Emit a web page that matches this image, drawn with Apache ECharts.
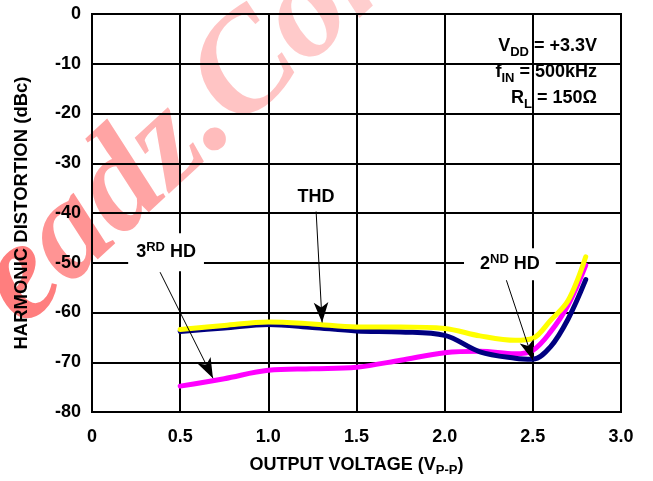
<!DOCTYPE html>
<html>
<head>
<meta charset="utf-8">
<script src="https://cdn.jsdelivr.net/npm/echarts@6/dist/echarts.min.js"></script>
<style>
  html, body { margin: 0; padding: 0; background: #fff; }
  #chart { width: 653px; height: 481px; }
</style>
</head>
<body>
<div id="chart"></div>
<script>
// Output voltage (V p-p) sample points
const voltage = [0.5, 0.75, 1.0, 1.25, 1.5, 1.75, 2.0, 2.2, 2.4, 2.5, 2.6, 2.7, 2.8];
// Distortion in dBc
const thd     = [-63.4, -62.6, -61.9, -62.3, -62.9, -62.9, -63.2, -64.7, -65.6, -65.2, -61.6, -57.6, -48.8];
const hd2     = [-63.8, -63.1, -62.4, -63.0, -63.7, -63.9, -64.6, -67.9, -69.2, -69.4, -66.9, -61.3, -53.4];
const hd3     = [-74.8, -73.3, -71.6, -71.3, -71.0, -69.6, -68.1, -67.8, -68.3, -67.6, -63.9, -58.5, -50.5];

// Axis ticks
const xTicks = [0, 0.5, 1.0, 1.5, 2.0, 2.5, 3.0];
const yTicks = [0, -10, -20, -30, -40, -50, -60, -70, -80];

// Callout labels (data units) and their pointer lines
const notes = [
  { name: 'THD',  at: [1.27, -36.6], from: [1.271, -39.7], to: [1.305, -62.0], pad: [3, 8, 1, 8] },
  { name: '3RD',  at: [0.42, -47.9], from: [0.386, -51.9], to: [0.686, -73.2], pad: [8, 8, 8, 8] },
  { name: '2ND',  at: [2.37, -50.3], from: [2.348, -53.3], to: [2.501, -69.6], pad: [5, 16, 5, 16] }
];

const FONT = '"Liberation Sans", Arial, sans-serif';
const pair = (xs, ys) => xs.map((x, i) => [x, ys[i]]);

const noteText = {
  'THD': '{b|THD}',
  '3RD': '{b|3}{sup|RD}{b| HD}',
  '2ND': '{b|2}{sup|ND}{b| HD}'
};

const chart = echarts.init(document.getElementById('chart'), null, { renderer: 'canvas' });

const lineSeries = (name, data, color) => ({
  name, type: 'line', data: pair(voltage, data),
  smooth: 0.35, showSymbol: false, symbol: 'none',
  lineStyle: { color, width: 5, cap: 'round' },
  z: 3, silent: true
});

const boldText = (size, extra) => Object.assign(
  { fontFamily: FONT, fontWeight: 'bold', fontSize: size, color: '#000' }, extra || {});

// watermark letters fade from left to right
const markFont = 'italic bold 140px "Liberation Serif", "DejaVu Serif", serif';
const markShades = ['#ff7e7e', '#ff9494', '#ffa4a4', '#ffb2b2', '#ffbcbc', '#ffc4c4', '#ffcaca', '#ffcece'];
const markRich = {};
markShades.forEach((c, i) => { markRich['w' + i] = { font: markFont, fill: c, color: c }; });
const markText = 'eadz.Com'.split('').map((ch, i) => '{w' + i + '|' + ch + '}').join('');

chart.setOption({
  animation: false,
  backgroundColor: '#fff',
  grid: {
    left: 92, right: 32, top: 14, bottom: 69,
    outerBoundsMode: 'none',
    show: true, borderColor: '#000', borderWidth: 2, backgroundColor: 'transparent'
  },
  xAxis: {
    type: 'value', min: 0, max: 3, interval: 0.5,
    name: '{n|OUTPUT VOLTAGE (V}{s|P-P}{n|)}',
    nameLocation: 'middle', nameGap: 41,
    nameTextStyle: {
      rich: {
        n: boldText(18, { lineHeight: 24 }),
        s: boldText(13, { lineHeight: 14, verticalAlign: 'bottom' })
      }
    },
    axisLine: { show: true, lineStyle: { color: '#000', width: 2 } },
    axisTick: { show: false },
    splitLine: { show: true, lineStyle: { color: '#000', width: 2 } },
    axisLabel: Object.assign(boldText(18), {
      margin: 16,
      formatter: v => (v === 0 ? '0' : xTicks.find(t => Math.abs(t - v) < 1e-9).toFixed(1))
    })
  },
  yAxis: {
    type: 'value', min: -80, max: 0, interval: 10,
    name: 'HARMONIC DISTORTION (dBc)',
    nameLocation: 'middle', nameGap: 61,
    nameTextStyle: boldText(18.5),
    axisLine: { show: true, lineStyle: { color: '#000', width: 2 } },
    axisTick: { show: false },
    splitLine: { show: true, lineStyle: { color: '#000', width: 2 } },
    axisLabel: Object.assign(boldText(18), {
      margin: 11,
      formatter: v => String(yTicks.find(t => Math.abs(t - v) < 1e-9))
    })
  },
  series: [
    lineSeries('3RD HD', hd3, '#ff00ff'),
    lineSeries('2ND HD', hd2, '#000080'),
    lineSeries('THD', thd, '#ffff00'),
    {
      name: 'callouts', type: 'scatter', z: 5, silent: true,
      symbolSize: 0,
      itemStyle: { opacity: 1 },
      data: notes.map(n => ({ value: n.at, name: n.name, label: { padding: n.pad } })),
      label: {
        show: true, position: 'inside',
        backgroundColor: '#fff',
        formatter: p => noteText[p.name],
        rich: {
          b: boldText(18, { lineHeight: 22 }),
          sup: boldText(13, { lineHeight: 14, verticalAlign: 'top' })
        }
      },
      markLine: {
        silent: true, animation: false,
        symbol: ['none', 'arrow'], symbolSize: [11, 20],
        label: { show: false },
        lineStyle: { color: '#000', width: 1, type: 'solid', opacity: 1 },
        data: notes.map(n => [{ coord: n.from }, { coord: n.to }])
      }
    }
  ],
  graphic: [
    {
      // watermark
      type: 'text', z: -10, silent: true,
      x: 46, y: 353, rotation: 0.745,
      style: {
        text: markText,
        rich: markRich,
        textAlign: 'left', textVerticalAlign: 'bottom'
      }
    },
    {
      // test-condition box
      type: 'group', z: 10, x: 473, y: 17,
      children: [
        { type: 'rect', shape: { x: 0, y: 0, width: 143, height: 105 }, style: { fill: '#fff' } },
        {
          type: 'text', x: 124, y: 16,
          style: {
            text: '{b|V}{s|DD}{b| = +3.3V}\n{b|f}{s|IN}{b| = 500kHz}\n{b|R}{s|L}{b| = 150Ω}',
            align: 'right', verticalAlign: 'top',
            rich: {
              b: boldText(18, { lineHeight: 26 }),
              s: boldText(13, { lineHeight: 15, verticalAlign: 'bottom' })
            }
          }
        }
      ]
    }
  ]
});
</script>
</body>
</html>
